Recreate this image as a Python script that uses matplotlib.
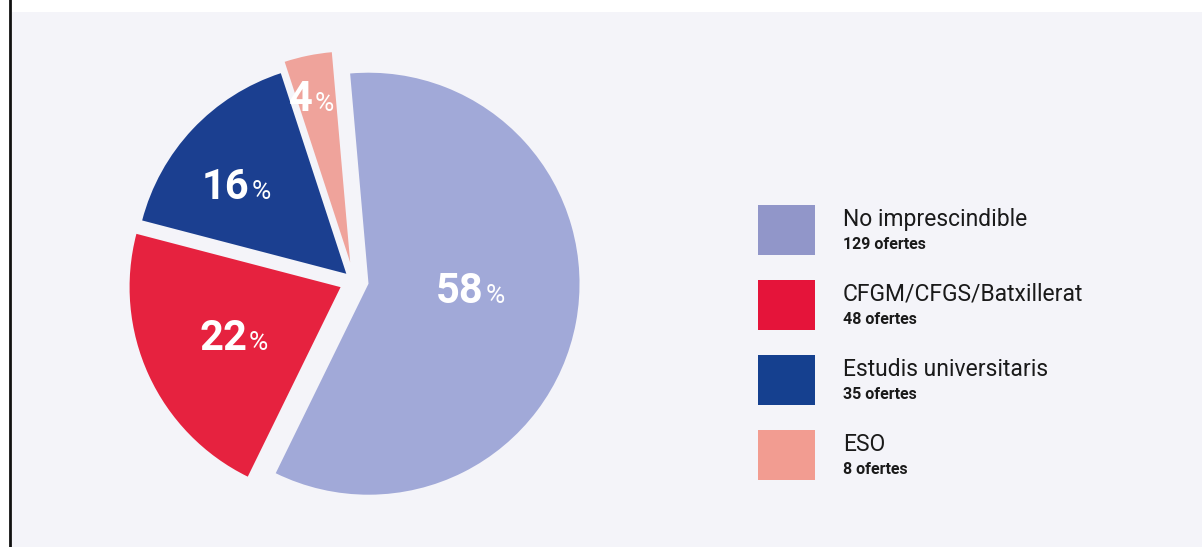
import matplotlib.pyplot as plt
from matplotlib.patches import Rectangle
import numpy as np

plt.rcParams['font.family'] = ['Roboto', 'DejaVu Sans']

# data
categories = ["No imprescindible", "CFGM/CFGS/Batxillerat", "Estudis universitaris", "ESO"]
offers = [129, 48, 35, 8]
pct_labels = ["58", "22", "16", "4"]

pie_colors = ['#a1a9d8', '#e6223f', '#1b3f90', '#efa39b']
swatch_colors = ['#9196c9', '#e5143a', '#15408f', '#f29c91']
explode = [0.07, 0.07, 0.05, 0.09]
label_dist = [0.50, 0.54, 0.66, 0.82]
label_turn = [7, 0, 3, 4]

W, H = 1202, 547
fig = plt.figure(figsize=(W / 100, H / 100), dpi=100)
fig.patch.set_facecolor('white')
ax = fig.add_axes([0, 0, 1, 1])

def py(y):
    # pixel row from top -> data y
    return H - y

# background panel and left rule
ax.add_patch(Rectangle((12, 0), W - 12, H - 12, facecolor='#f4f4f9', edgecolor='none', zorder=0))
ax.plot([10, 10], [0, H], color='#111111', lw=2, zorder=1)

cx, cy, r = 354, py(281), 211
wedges, _ = ax.pie(offers, colors=pie_colors, explode=[e * r for e in explode], startangle=95,
                   counterclock=False, radius=r, center=(cx, cy),
                   wedgeprops=dict(linewidth=0))
for w in wedges:
    w.set_zorder(2)

for w, lab, ex, d, t in zip(wedges, pct_labels, explode, label_dist, label_turn):
    ang = np.deg2rad((w.theta1 + w.theta2) / 2 + t)
    dist = r * (d + ex)
    x = cx + dist * np.cos(ang)
    y = cy + dist * np.sin(ang)
    base = y - 15
    ax.text(x + 10, base, lab, color='white', fontsize=30, fontweight='semibold',
            ha='right', va='baseline', zorder=3)
    ax.text(x + 12, base, '%', color='white', fontsize=19,
            ha='left', va='baseline', zorder=3)

# legend
for i, (cat, n, c) in enumerate(zip(categories, offers, swatch_colors)):
    top = 205 + i * 75
    ax.add_patch(Rectangle((758, py(top + 50)), 57, 50, facecolor=c, edgecolor='none', zorder=2))
    ax.text(843, py(top + 21), cat, fontsize=16.5, color='#1a1a1a', ha='left', va='baseline')
    ax.text(843, py(top + 44), f"{n} ofertes", fontsize=11.5, fontweight='bold',
            color='#1a1a1a', ha='left', va='baseline')

ax.set_aspect('auto')
ax.set_xlim(0, W)
ax.set_ylim(0, H)
ax.axis('off')

fig.savefig('out.png', dpi=100, facecolor=fig.get_facecolor())
